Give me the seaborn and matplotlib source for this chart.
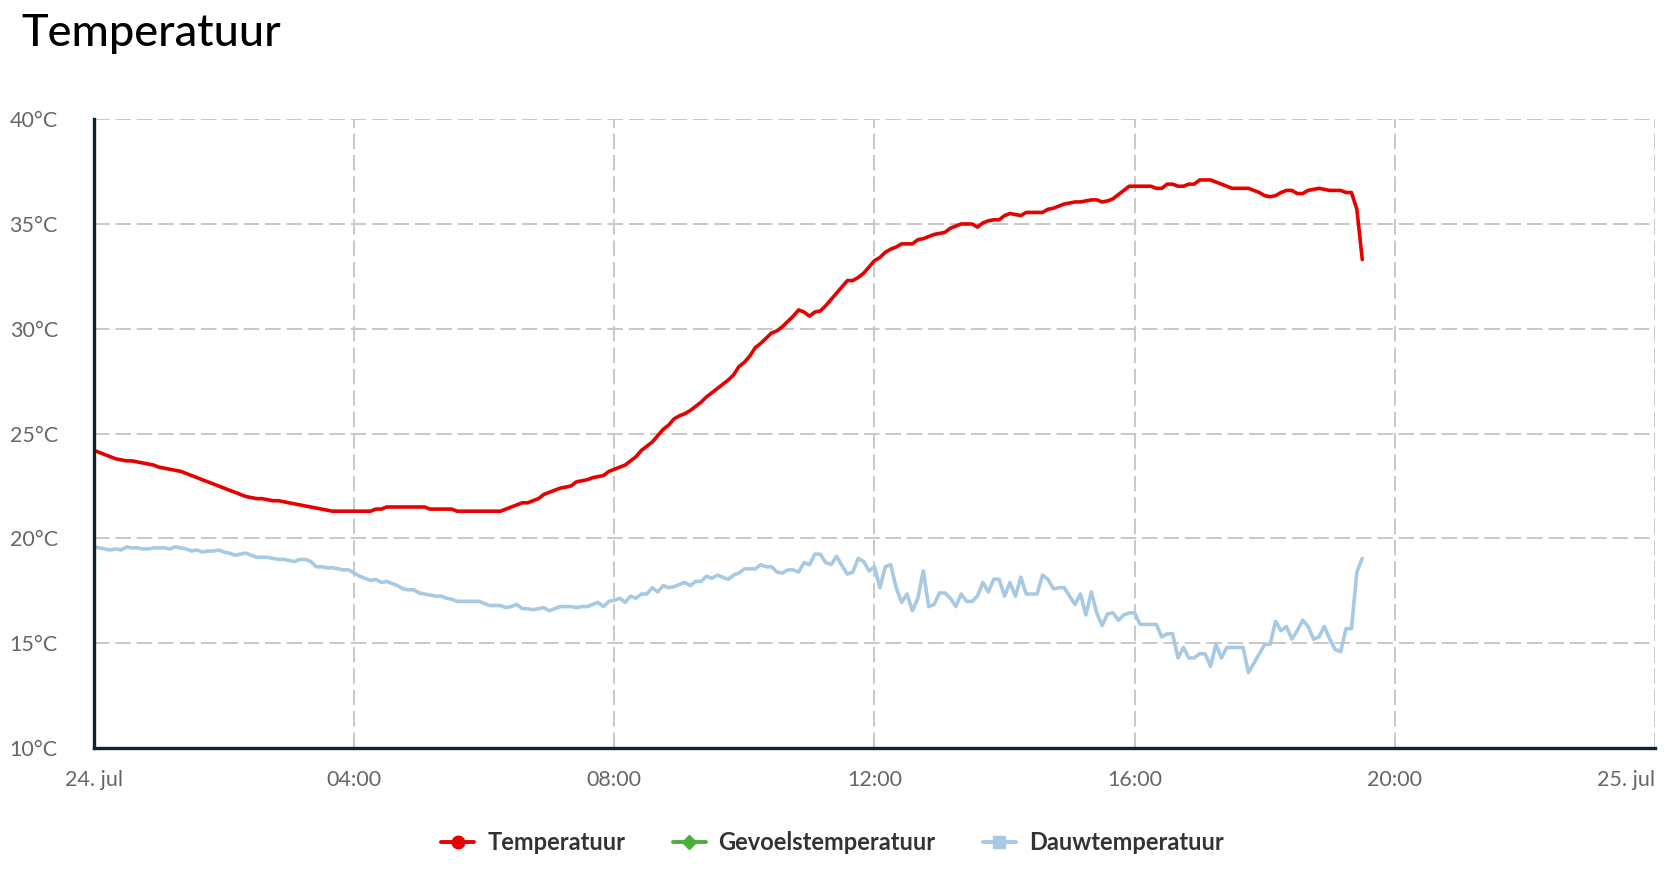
import pandas as pd
import matplotlib
matplotlib.use("Agg")
import matplotlib.pyplot as plt
from matplotlib.lines import Line2D
import seaborn as sns

# metingen per 5 minuten, 24 juli 00:00 - 19:30
temperatuur = [
    24.2, 24.1, 24.0, 23.9, 23.8, 23.75, 23.7, 23.7, 23.65, 23.6, 23.55, 23.5,
    23.4, 23.35, 23.3, 23.25, 23.2, 23.1, 23.0, 22.9, 22.8, 22.7, 22.6, 22.5,
    22.4, 22.3, 22.2, 22.1, 22.0, 21.95, 21.9, 21.9, 21.85, 21.8, 21.8, 21.75,
    21.7, 21.65, 21.6, 21.55, 21.5, 21.45, 21.4, 21.35, 21.3, 21.3, 21.3, 21.3,
    21.3, 21.3, 21.3, 21.3, 21.4, 21.4, 21.5, 21.5, 21.5, 21.5, 21.5, 21.5,
    21.5, 21.5, 21.4, 21.4, 21.4, 21.4, 21.4, 21.3, 21.3, 21.3, 21.3, 21.3,
    21.3, 21.3, 21.3, 21.3, 21.4, 21.5, 21.6, 21.7, 21.7, 21.8, 21.9, 22.1,
    22.2, 22.3, 22.4, 22.45, 22.5, 22.7, 22.75, 22.8, 22.9, 22.95, 23.0, 23.2,
    23.3, 23.4, 23.5, 23.7, 23.9, 24.2, 24.4, 24.6, 24.9, 25.2, 25.4, 25.7,
    25.85, 25.95, 26.1, 26.3, 26.5, 26.75, 26.95, 27.15, 27.35, 27.55, 27.8, 28.2,
    28.4, 28.7, 29.1, 29.3, 29.55, 29.8, 29.9, 30.1, 30.35, 30.6, 30.9, 30.8,
    30.6, 30.8, 30.85, 31.1, 31.4, 31.7, 32.0, 32.3, 32.3, 32.45, 32.65, 32.95,
    33.25, 33.4, 33.65, 33.8, 33.9, 34.05, 34.05, 34.05, 34.25, 34.3, 34.4, 34.5,
    34.55, 34.6, 34.8, 34.9, 35.0, 35.0, 35.0, 34.85, 35.05, 35.15, 35.2, 35.2,
    35.4, 35.5, 35.45, 35.4, 35.55, 35.55, 35.55, 35.55, 35.7, 35.75, 35.85, 35.95,
    36.0, 36.05, 36.05, 36.1, 36.15, 36.15, 36.05, 36.1, 36.2, 36.4, 36.6, 36.8,
    36.8, 36.8, 36.8, 36.8, 36.7, 36.7, 36.9, 36.9, 36.8, 36.8, 36.9, 36.9,
    37.1, 37.1, 37.1, 37.0, 36.9, 36.8, 36.7, 36.7, 36.7, 36.7, 36.6, 36.5,
    36.35, 36.3, 36.35, 36.5, 36.6, 36.6, 36.45, 36.45, 36.6, 36.65, 36.7, 36.65,
    36.6, 36.6, 36.6, 36.5, 36.5, 35.7, 33.3,
]

dauwtemperatuur = [
    19.6, 19.55, 19.5, 19.45, 19.5, 19.45, 19.6, 19.55, 19.55, 19.5, 19.5, 19.55,
    19.55, 19.55, 19.5, 19.6, 19.55, 19.5, 19.4, 19.45, 19.35, 19.4, 19.4, 19.45,
    19.35, 19.3, 19.2, 19.25, 19.3, 19.2, 19.1, 19.1, 19.1, 19.05, 19.0, 19.0,
    18.95, 18.9, 19.0, 19.0, 18.9, 18.65, 18.65, 18.6, 18.6, 18.55, 18.5, 18.5,
    18.35, 18.2, 18.1, 18.0, 18.05, 17.9, 17.95, 17.85, 17.75, 17.6, 17.55, 17.55,
    17.4, 17.35, 17.3, 17.25, 17.25, 17.15, 17.1, 17.0, 17.0, 17.0, 17.0, 17.0,
    16.9, 16.8, 16.8, 16.8, 16.7, 16.75, 16.85, 16.65, 16.65, 16.6, 16.65, 16.7,
    16.55, 16.65, 16.75, 16.75, 16.75, 16.7, 16.75, 16.75, 16.85, 16.95, 16.75, 17.0,
    17.05, 17.15, 16.95, 17.25, 17.15, 17.35, 17.35, 17.65, 17.45, 17.75, 17.65, 17.7,
    17.8, 17.9, 17.75, 17.95, 17.95, 18.2, 18.1, 18.25, 18.15, 18.05, 18.25, 18.35,
    18.55, 18.55, 18.55, 18.75, 18.65, 18.65, 18.4, 18.35, 18.5, 18.5, 18.4, 18.85,
    18.75, 19.25, 19.25, 18.85, 18.75, 19.15, 18.7, 18.3, 18.4, 19.05, 18.9, 18.45,
    18.65, 17.65, 18.65, 18.75, 17.65, 16.95, 17.35, 16.55, 17.15, 18.45, 16.75, 16.85,
    17.4, 17.4, 17.15, 16.75, 17.35, 17.0, 17.0, 17.25, 17.9, 17.45, 18.05, 18.05,
    17.25, 17.9, 17.25, 18.15, 17.35, 17.35, 17.35, 18.25, 18.05, 17.6, 17.65, 17.65,
    17.25, 16.85, 17.35, 16.35, 17.45, 16.45, 15.85, 16.4, 16.45, 16.1, 16.35, 16.45,
    16.45, 15.9, 15.9, 15.9, 15.9, 15.3, 15.45, 15.45, 14.3, 14.8, 14.3, 14.3,
    14.5, 14.5, 13.9, 14.95, 14.3, 14.8, 14.8, 14.8, 14.8, 13.6, 14.05, 14.5,
    14.95, 14.95, 16.05, 15.6, 15.8, 15.2, 15.6, 16.1, 15.8, 15.2, 15.3, 15.8,
    15.2, 14.7, 14.6, 15.7, 15.7, 18.4, 19.05,
]

series_namen = ["Temperatuur", "Gevoelstemperatuur", "Dauwtemperatuur"]
kleuren = {"Temperatuur": "#e60000", "Gevoelstemperatuur": "#4caf3a",
           "Dauwtemperatuur": "#a7c9e3"}

y_ticks = [10, 15, 20, 25, 30, 35, 40]
x_tick_labels = ["24. jul", "04:00", "08:00", "12:00", "16:00", "20:00", "25. jul"]

tijd = pd.date_range("2019-07-24 00:00", periods=len(temperatuur), freq="5min")
df = pd.concat([
    pd.DataFrame({"tijd": tijd, "waarde": temperatuur, "serie": "Temperatuur"}),
    pd.DataFrame({"tijd": tijd, "waarde": dauwtemperatuur, "serie": "Dauwtemperatuur"}),
])

sns.set_style("white")
plt.rcParams["font.family"] = ["Lato", "DejaVu Sans"]

fig = plt.figure(figsize=(16.7, 8.76), dpi=100)
ax = fig.add_axes([0.0563, 0.146, 0.9347, 0.718])

sns.lineplot(data=df, x="tijd", y="waarde", hue="serie", palette=kleuren,
             linewidth=2.6, legend=False, ax=ax, sort=False)

# assen
start = pd.Timestamp("2019-07-24 00:00")
eind = pd.Timestamp("2019-07-25 00:00")
ax.set_xlim(start, eind)
ax.set_ylim(10, 40)
ax.set_xlabel("")
ax.set_ylabel("")

x_ticks = pd.date_range(start, eind, freq="4h")
ax.set_xticks(x_ticks)
ax.set_xticklabels(x_tick_labels)
ax.get_xticklabels()[-1].set_horizontalalignment("right")
ax.set_yticks(y_ticks)
ax.set_yticklabels([f"{v}°C" for v in y_ticks])

ax.tick_params(axis="x", length=8, width=1, color="#ccd6eb", pad=8,
               labelsize=15.5, labelcolor="#666666")
ax.tick_params(axis="y", length=0, pad=26, labelsize=15.5, labelcolor="#666666")

ax.grid(True, color="#c8c8c8", linewidth=1.4, linestyle=(0, (8, 3)))
ax.set_axisbelow(True)

for kant in ["top", "right"]:
    ax.spines[kant].set_visible(False)
for kant in ["left", "bottom"]:
    ax.spines[kant].set_color("#0b2536")
    ax.spines[kant].set_linewidth(2.4)
    ax.spines[kant].set_zorder(5)

# titel
fig.text(0.013, 0.962, "Temperatuur", fontsize=32.5, fontweight="medium",
         color="#000000", ha="left", va="center")

# legenda
markers = {"Temperatuur": "o", "Gevoelstemperatuur": "D", "Dauwtemperatuur": "s"}
handles = [Line2D([0], [0], color=kleuren[n], linewidth=2.8, marker=markers[n],
                  markersize=9 if markers[n] != "D" else 7) for n in series_namen]
fig.legend(handles, series_namen, loc="center", bbox_to_anchor=(0.4985, 0.038),
           ncol=3, frameon=False, handlelength=1.4, columnspacing=2.0,
           handletextpad=0.55, prop={"size": 17, "weight": "bold"},
           labelcolor="#333333")

fig.savefig("out.png", dpi=100)
